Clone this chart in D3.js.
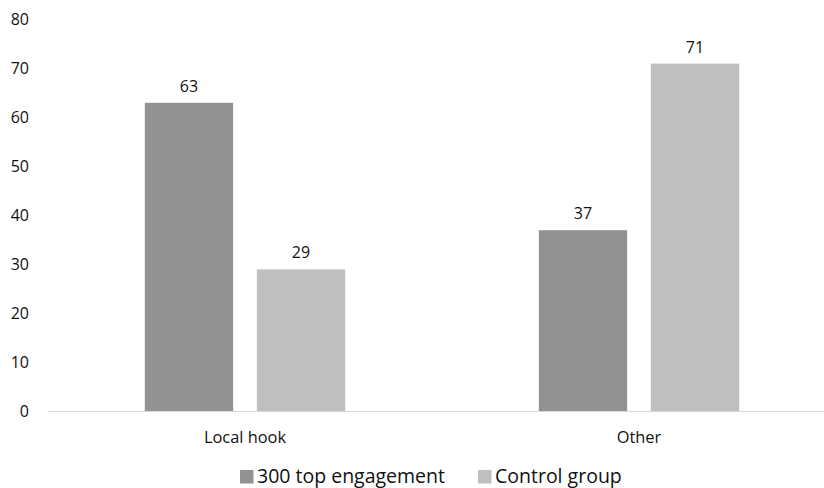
<!DOCTYPE html>
<html><head><meta charset="utf-8">
<script src="https://cdn.jsdelivr.net/npm/d3@7"></script>
<style>body{margin:0;background:#fff}svg{display:block}text{font-family:"Open Sans",sans-serif;fill:#111}</style>
</head><body><svg id="c" width="824" height="488"></svg>
<script>
const categories = ["Local hook", "Other"];
const seriesNames = ["300 top engagement", "Control group"];
const engagementValues = [63, 37];
const controlValues = [29, 71];
const yTicks = [0, 10, 20, 30, 40, 50, 60, 70, 80];
const colors = ["#929292", "#bfbfbf"];

const seriesValues = [engagementValues, controlValues];
const svg = d3.select("#c");
const x0 = d3.scaleBand().domain(categories).range([48, 836]).padding(0);
const x1 = d3.scaleBand().domain(seriesNames).range([0, x0.bandwidth()]).paddingInner(0.2116).paddingOuter(0.864);
const y = d3.scaleLinear().domain([0, 80]).range([411.5, 19.5]);

// y tick labels
svg.append("g").selectAll("text").data(yTicks).join("text")
  .attr("x", 29).attr("y", d => y(d)).attr("dy", "0.35em")
  .attr("text-anchor", "end").attr("font-size", 16).text(d => d);

// bars
categories.forEach((c, ci) => {
  seriesNames.forEach((s, si) => {
    const v = seriesValues[si][ci];
    svg.append("rect")
      .attr("x", x0(c) + x1(s)).attr("y", y(v))
      .attr("width", x1.bandwidth()).attr("height", y(0) - y(v))
      .attr("fill", colors[si]);
    svg.append("text")
      .attr("x", x0(c) + x1(s) + x1.bandwidth() / 2).attr("y", y(v) - 11)
      .attr("text-anchor", "middle").attr("font-size", 16).text(v);
  });
});

// baseline
svg.append("line").attr("x1", 48).attr("x2", 836).attr("y1", y(0)).attr("y2", y(0))
  .attr("stroke", "#d9d9d9").attr("stroke-width", 1);

// category labels
svg.append("g").selectAll("text").data(categories).join("text")
  .attr("x", d => x0(d) + x0.bandwidth() / 2).attr("y", 437).attr("dy", "0.35em")
  .attr("text-anchor", "middle").attr("font-size", 16.4).text(d => d);

// legend
const legX = [240, 478];
seriesNames.forEach((s, i) => {
  svg.append("rect").attr("x", legX[i]).attr("y", 470).attr("width", 13.5).attr("height", 13.5).attr("fill", colors[i]);
  svg.append("text").attr("x", legX[i] + 17).attr("y", 476.5).attr("dy", "0.35em")
    .attr("font-size", 19.5).text(s);
});
</script></body></html>
